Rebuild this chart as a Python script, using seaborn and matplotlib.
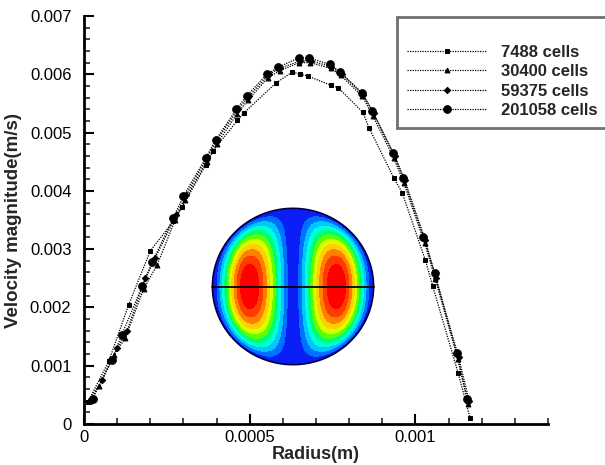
import numpy as np
import pandas as pd
import matplotlib
matplotlib.use("Agg")
import matplotlib.pyplot as plt
from matplotlib.colors import ListedColormap
import seaborn as sns

# ---------------- data ----------------
r_7488 = [1.2e-5, 7.5e-5, 1.35e-4, 2.0e-4, 2.7e-4, 2.96e-4, 3.67e-4, 3.9e-4, 4.63e-4, 4.83e-4,
          5.79e-4, 6.29e-4, 6.52e-4, 6.76e-4, 7.45e-4, 7.67e-4, 8.41e-4, 8.6e-4, 9.35e-4, 9.6e-4,
          1.03e-3, 1.052e-3, 1.129e-3, 1.165e-3]
v_7488 = [0.00038, 0.00108, 0.00205, 0.00297, 0.00348, 0.00372, 0.00444, 0.00469, 0.00521, 0.00534,
          0.00585, 0.00604, 0.0060, 0.00597, 0.00581, 0.00577, 0.00535, 0.00508, 0.00422, 0.00397,
          0.00281, 0.00237, 0.00087, 0.0001]

r_30400 = [1.5e-5, 4.5e-5, 9.0e-5, 1.25e-4, 1.8e-4, 2.2e-4, 2.75e-4, 3.05e-4, 3.7e-4, 4.0e-4,
           4.62e-4, 4.95e-4, 5.55e-4, 5.9e-4, 6.5e-4, 6.82e-4, 7.45e-4, 7.75e-4, 8.4e-4, 8.72e-4,
           9.35e-4, 9.65e-4, 1.028e-3, 1.06e-3, 1.128e-3, 1.16e-3]
v_30400 = [0.00042, 0.00066, 0.00118, 0.00148, 0.00232, 0.00272, 0.0035, 0.00385, 0.0045, 0.0048,
           0.00532, 0.00556, 0.00594, 0.00606, 0.0062, 0.0062, 0.0061, 0.00598, 0.00562, 0.00528,
           0.00456, 0.00413, 0.0031, 0.00248, 0.00112, 0.00035]

r_59375 = [2.0e-5, 5.5e-5, 1.0e-4, 1.3e-4, 1.85e-4, 2.15e-4, 2.78e-4, 3.08e-4, 3.72e-4, 4.02e-4,
           4.65e-4, 4.97e-4, 5.58e-4, 5.9e-4, 6.52e-4, 6.84e-4, 7.46e-4, 7.78e-4, 8.42e-4, 8.74e-4,
           9.38e-4, 9.68e-4, 1.03e-3, 1.062e-3, 1.13e-3, 1.162e-3]
v_59375 = [0.0004, 0.00075, 0.0013, 0.0016, 0.0025, 0.00285, 0.00358, 0.00393, 0.00458, 0.00488,
           0.0054, 0.00562, 0.0060, 0.0061, 0.00623, 0.00623, 0.00613, 0.0060, 0.00565, 0.00533,
           0.0046, 0.00418, 0.00315, 0.0025, 0.00115, 0.0004]

r_201058 = [2.6e-5, 8.4e-5, 1.14e-4, 1.76e-4, 2.06e-4, 2.69e-4, 3.0e-4, 3.67e-4, 3.97e-4, 4.6e-4,
            4.91e-4, 5.52e-4, 5.85e-4, 6.48e-4, 6.79e-4, 7.42e-4, 7.73e-4, 8.39e-4, 8.7e-4, 9.32e-4,
            9.63e-4, 1.024e-3, 1.058e-3, 1.124e-3, 1.155e-3]
v_201058 = [0.000434, 0.0011, 0.00153, 0.00237, 0.00278, 0.00353, 0.00391, 0.00456, 0.00487, 0.0054,
            0.00563, 0.0060, 0.00612, 0.00628, 0.00628, 0.00617, 0.00604, 0.00568, 0.00537, 0.00465,
            0.00422, 0.00321, 0.00259, 0.00122, 0.00043]

series_labels = ["7488 cells", "30400 cells", "59375 cells", "201058 cells"]
x_ticks = [0, 0.0005, 0.001]
x_ticklabels = ["0", "0.0005", "0.001"]
y_ticks = [0, 0.001, 0.002, 0.003, 0.004, 0.005, 0.006, 0.007]
y_ticklabels = ["0", "0.001", "0.002", "0.003", "0.004", "0.005", "0.006", "0.007"]

# ---------------- style ----------------
sns.set_theme(style="ticks")
plt.rcParams["font.family"] = ["Liberation Sans", "DejaVu Sans"]

W, H = 605, 465
fig = plt.figure(figsize=(W / 100, H / 100), dpi=100)
fig.patch.set_facecolor("white")
ax = fig.add_axes([84 / W, 1 - 424 / H, (548 - 84) / W, (424 - 16) / H])
ax.set_facecolor("white")

data_sets = [(r_7488, v_7488), (r_30400, v_30400), (r_59375, v_59375), (r_201058, v_201058)]
markers = ["s", "^", "D", "o"]
msizes = [3.2, 3.5, 3.2, 5.5]
for (rr, vv), lab, mk, ms in zip(data_sets, series_labels, markers, msizes):
    df = pd.DataFrame({"r": rr, "v": vv})
    sns.lineplot(data=df, x="r", y="v", ax=ax, color="black", linestyle=(0, (1, 1)),
                 linewidth=0.9, marker=mk, markersize=ms, markeredgecolor="black",
                 markerfacecolor="black", estimator=None, sort=False, label=lab)

ax.set_xlim(0, 0.0014)
ax.set_ylim(0, 0.007)
ax.set_xticks(x_ticks)
ax.set_xticklabels(x_ticklabels)
ax.set_yticks(y_ticks)
ax.set_yticklabels(y_ticklabels)
ax.set_xticks(np.arange(0, 0.00141, 0.0001), minor=True)
ax.set_yticks(np.arange(0, 0.00701, 0.0002), minor=True)
ax.tick_params(which="major", direction="in", length=7, width=1.5, labelsize=12, colors="black")
ax.tick_params(axis="y", which="major", pad=9)
ax.tick_params(axis="x", which="major", pad=4)
ax.tick_params(which="minor", direction="in", length=4, width=1.2)
for s in ["top", "right"]:
    ax.spines[s].set_visible(False)
for s in ["left", "bottom"]:
    ax.spines[s].set_linewidth(2)
    ax.spines[s].set_color("black")
ax.set_xlabel("Radius(m)", fontsize=13, fontweight="bold", labelpad=1)
ax.set_ylabel("Velocity magnitude(m/s)", fontsize=13.5, fontweight="bold", labelpad=6)

leg = ax.legend(loc="upper left", bbox_to_anchor=(397 / W, 1 - 17 / H),
                bbox_transform=fig.transFigure, frameon=True, fancybox=False,
                prop={"weight": "bold", "size": 12}, handlelength=4.8,
                handletextpad=0.85, labelspacing=0.25, borderpad=0.6,
                title=" ", title_fontsize=11, borderaxespad=0)
leg.get_frame().set_edgecolor("#707070")
leg.get_frame().set_linewidth(2)
leg.get_frame().set_facecolor("white")
leg.get_frame().set_alpha(1)

# ---------------- inset contour (cross-section) ----------------
iax = fig.add_axes([210 / W, 1 - 367 / H, 166 / W, 161 / H])
n = 400
gx = np.linspace(-1, 1, n)
X, Y = np.meshgrid(gx, gx)
R2 = X ** 2 + Y ** 2
u = np.abs(X)
g = np.where(u <= 0.55, np.sin(np.pi * u / 1.1), np.cos(np.pi * np.clip(u - 0.55, 0, 0.45) / 0.9))
g = np.clip(g, 0, 1) ** 1.5
s = np.abs(Y) / np.sqrt(np.clip(1 - X ** 2, 1e-9, None))
w = np.clip(1 - s ** 2.2, 0, None)
F = np.where(R2 <= 1, g * w, np.nan)
band_colors = ["#0a1ef5", "#0070ff", "#00c8ff", "#00ffd8", "#00ff70", "#60ff00",
               "#d8ff00", "#ffd000", "#ff8000", "#ff3c00", "#ff0000"]
cmap = ListedColormap(band_colors)
iax.contourf(X, Y, F, levels=np.linspace(0, 1.0001, 12), cmap=cmap)
th = np.linspace(0, 2 * np.pi, 400)
iax.plot(np.cos(th), np.sin(th), color="#000040", linewidth=1.2)
iax.plot([-1.01, 1.01], [0, 0], color="black", linewidth=1.3)
iax.set_xlim(-1.03, 1.03)
iax.set_ylim(-1.03, 1.03)
iax.axis("off")

fig.savefig("out.png", dpi=100, facecolor="white")
